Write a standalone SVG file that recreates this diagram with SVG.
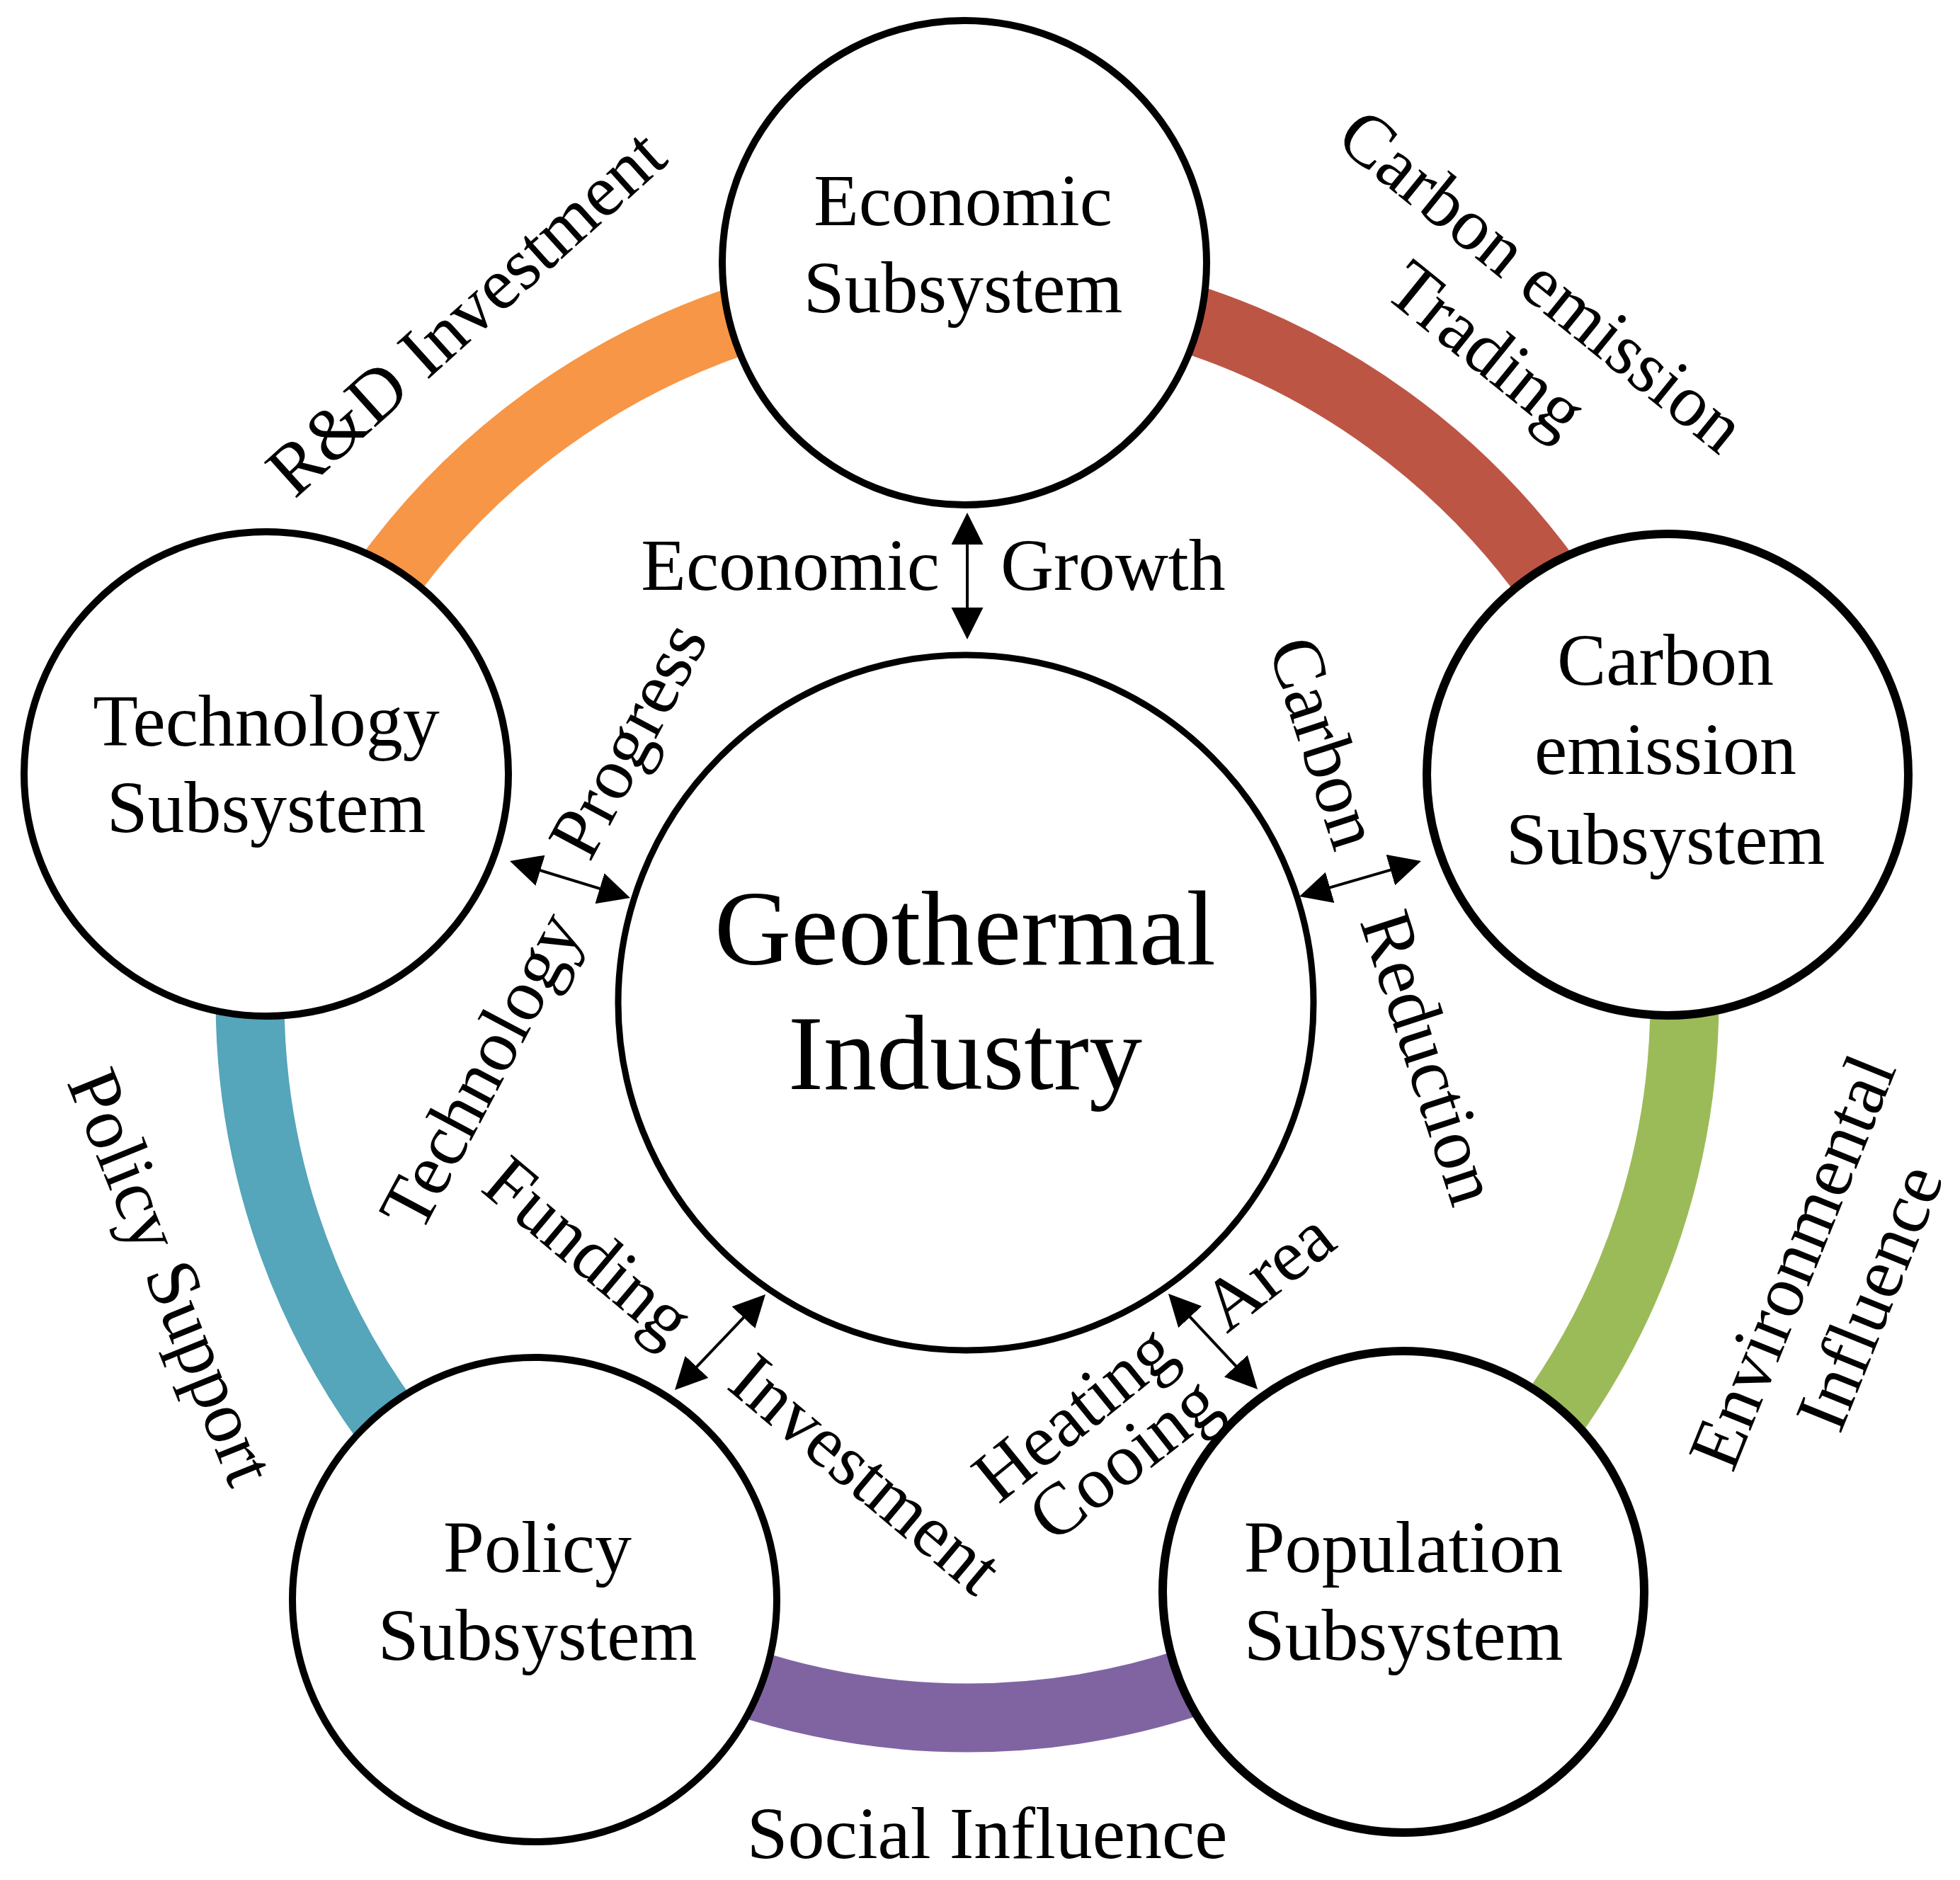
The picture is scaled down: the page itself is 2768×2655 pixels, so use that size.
<svg xmlns="http://www.w3.org/2000/svg" width="2768" height="2655" viewBox="0 0 2768 2655">
<defs>
<style>
.ring{fill:none;stroke-width:97;stroke-linecap:butt;}
.node{fill:#fff;stroke:#000;stroke-width:10;}
.thick{stroke-width:12;}
.t{font-family:"Liberation Serif","Times New Roman",serif;font-size:104px;fill:#000;}
.m{text-anchor:middle;}
.e{text-anchor:end;}
.big{font-size:150px;}
.conn{stroke:#000;stroke-width:4;fill:none;marker-start:url(#ah);marker-end:url(#ah);}
</style>
<marker id="ah" markerUnits="userSpaceOnUse" markerWidth="46" markerHeight="46" refX="35" refY="22.5" orient="auto-start-reverse" viewBox="0 0 46 46"><path d="M0,0 L45,22.5 L0,45 z" fill="#000"/></marker>
</defs>
<rect width="2768" height="2655" fill="#fff"/>
<g id="ring">
<path class="ring" stroke="#F79646" d="M402.6,1100 A1013,1013 0 0 1 1366,400"/>
<path class="ring" stroke="#BD5545" d="M1366,400 A1013,1013 0 0 1 2329.4,1100"/>
<path class="ring" stroke="#9BBB59" d="M2329.4,1100 A1013,1013 0 0 1 1961.4,2232.5"/>
<path class="ring" stroke="#8064A2" d="M1961.4,2232.5 A1013,1013 0 0 1 770.6,2232.5"/>
<path class="ring" stroke="#55A5BB" d="M770.6,2232.5 A1013,1013 0 0 1 402.6,1100"/>
</g>
<g id="connectors">
<line class="conn" x1="1366" y1="734" x2="1366" y2="893"/>
<line class="conn" x1="729.6" y1="1218.9" x2="880.4" y2="1265.1"/>
<line class="conn" x1="1844.6" y1="1263.2" x2="1997.4" y2="1218.8"/>
<line class="conn" x1="1074.1" y1="1835.3" x2="959.9" y2="1955.7"/>
<line class="conn" x1="1656.8" y1="1834.3" x2="1769.2" y2="1954.7"/>
</g>
<g id="node-economic">
<circle class="node" cx="1362" cy="371" r="342"/>
<text class="t m" x="1360" y="318">Economic</text>
<text class="t m" x="1360" y="441">Subsystem</text>
</g>
<g id="node-technology">
<circle class="node" cx="376" cy="1093" r="342"/>
<text class="t m" x="376" y="1053">Technology</text>
<text class="t m" x="376" y="1175">Subsystem</text>
</g>
<g id="node-carbon">
<circle class="node thick" cx="2355" cy="1094" r="340"/>
<text class="t m" x="2352" y="967">Carbon</text>
<text class="t m" x="2352" y="1093">emission</text>
<text class="t m" x="2352" y="1220">Subsystem</text>
</g>
<g id="node-policy">
<circle class="node" cx="755" cy="2259" r="342"/>
<text class="t m" x="759" y="2220">Policy</text>
<text class="t m" x="759" y="2344">Subsystem</text>
</g>
<g id="node-population">
<circle class="node thick" cx="1982" cy="2248" r="340"/>
<text class="t m" x="1982" y="2220">Population</text>
<text class="t m" x="1982" y="2344">Subsystem</text>
</g>
<g id="node-geothermal">
<circle class="node" style="stroke-width:9" cx="1364" cy="1416" r="491"/>
<text class="t m big" x="1363" y="1362">Geothermal</text>
<text class="t m big" x="1363" y="1538">Industry</text>
</g>
<g id="labels">
<text class="t e" x="1327" y="833">Economic</text>
<text class="t" x="1413" y="833">Growth</text>
<text class="t e" x="824" y="1312" transform="rotate(-62 824 1312)">Technology</text>
<text class="t" x="833" y="1219" transform="rotate(-62 833 1219)">Progress</text>
<text class="t e" x="1885" y="1205" transform="rotate(72 1885 1205)">Carbon</text>
<text class="t" x="1920" y="1301" transform="rotate(72 1920 1301)">Reduction</text>
<text class="t m" x="809" y="1792" transform="rotate(40 809 1792)">Funding</text>
<text class="t m" x="1201" y="2108" transform="rotate(40 1201 2108)">Investment</text>
<text class="t m" x="1538" y="2022" transform="rotate(-39 1538 2022)">Heating</text>
<text class="t m" x="1608" y="2087" transform="rotate(-38 1608 2087)">Cooing</text>
<text class="t m" x="1812" y="1822" transform="rotate(-38 1812 1822)">Area</text>
<text class="t m" x="681" y="467" transform="rotate(-42 681 467)">R&amp;D Investment</text>
<text class="t m" x="2156" y="423" transform="rotate(39 2156 423)">Carbon emission</text>
<text class="t m" x="2078" y="519" transform="rotate(39 2078 519)">Trading</text>
<text class="t m" x="2563" y="1795" transform="rotate(-68 2563 1795)">Environmental</text>
<text class="t m" x="2672" y="1845" transform="rotate(-68 2672 1845)">Influence</text>
<text class="t m" x="210" y="1816" transform="rotate(68 210 1816)">Policy Support</text>
<text class="t m" x="1394" y="2624">Social Influence</text>
</g>
</svg>
